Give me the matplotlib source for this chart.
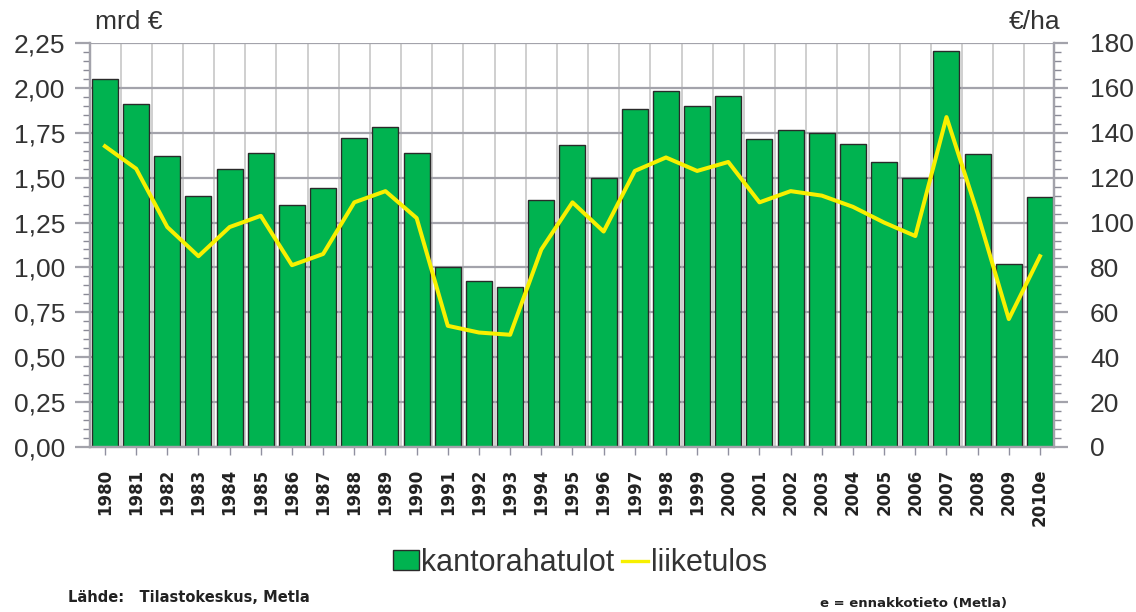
import matplotlib.pyplot as plt
from matplotlib.ticker import MultipleLocator
from matplotlib.patches import Patch
from matplotlib.lines import Line2D

years = [str(y) for y in range(1980, 2010)] + ["2010e"]
kantorahatulot = [2.05, 1.91, 1.62, 1.40, 1.55, 1.64, 1.35, 1.44, 1.72, 1.78,
                  1.64, 1.00, 0.925, 0.89, 1.375, 1.68, 1.50, 1.88, 1.98, 1.90,
                  1.955, 1.715, 1.765, 1.75, 1.69, 1.585, 1.50, 2.205, 1.63, 1.02,
                  1.39]
liiketulos = [134, 124, 98, 85, 98, 103, 81, 86, 109, 114,
              102, 54, 51, 50, 88, 109, 96, 123, 129, 123,
              127, 109, 114, 112, 107, 100, 94, 147, 104, 57,
              85]

green = '#00b350'
yellow = '#f7f000'
grid_c = '#a3a3ab'
txt = '#333333'
PX = 0.72  # points per pixel at dpi 100

fig = plt.figure(figsize=(11.36, 6.12), dpi=100)
ax = fig.add_axes([90/1136, 1-447/612, (1054-90)/1136, (447-43)/612])
ax2 = ax.twinx()

x = list(range(len(years)))

# light separators between the bars
for i in range(len(years) - 1):
    ax.axvline(i + 0.5, color='#cccccc', lw=1.3, zorder=0)

ax.bar(x, kantorahatulot, width=0.835, color=green, edgecolor='#2a2a2a', linewidth=1.0, zorder=2)
ax.set_ylim(0, 2.25)
ax.set_xlim(-0.48, 30.45)
ax.yaxis.set_major_locator(MultipleLocator(0.25))
ax.yaxis.set_minor_locator(MultipleLocator(0.05))
ax.grid(axis='y', which='major', color=grid_c, lw=1.6, zorder=1)
ax.set_axisbelow(True)
ax.set_yticklabels([f"{v:.2f}".replace('.', ',') for v in ax.get_yticks()])

ax2.plot(x, liiketulos, color=yellow, lw=2.9, zorder=5)
ax2.set_ylim(0, 180)
ax2.yaxis.set_major_locator(MultipleLocator(20))
ax2.yaxis.set_minor_locator(MultipleLocator(4))

ax.set_xticks(x)
ax.set_xticklabels(years, rotation=90, fontsize=12, fontweight='bold',
                   family='DejaVu Sans', color='#222222')
ax.tick_params(axis='x', length=8*PX, width=1, color='#9090a0', pad=14*PX)

for a in (ax, ax2):
    for s in a.spines.values():
        s.set_color(grid_c)
        s.set_linewidth(1.6)
    a.spines['top'].set_visible(False)

ax.tick_params(axis='y', which='major', length=15*PX, width=1.6, color=grid_c,
               labelsize=19, labelcolor=txt, pad=10*PX)
ax.tick_params(axis='y', which='minor', length=7*PX, width=1, color='#8a8a96')
ax2.tick_params(axis='y', which='major', length=14*PX, width=1.6, color=grid_c,
                labelsize=19, labelcolor=txt, pad=22*PX)
ax2.tick_params(axis='y', which='minor', length=7*PX, width=1, color='#8a8a96')
for lab in ax.get_yticklabels() + ax2.get_yticklabels():
    lab.set_family('Liberation Sans')

fig.text(95/1136, 1-22/612, 'mrd €', fontsize=19, color=txt, family='Liberation Sans',
         va='center', ha='left')
fig.text(1060/1136, 1-22/612, '€/ha', fontsize=19, color=txt, family='Liberation Sans',
         va='center', ha='right')

handles = [Patch(facecolor=green, edgecolor='#2a2a2a', linewidth=1.0),
           Line2D([0], [0], color=yellow, lw=2.4)]
fig.legend(handles, ['kantorahatulot', 'liiketulos'], loc='center',
           bbox_to_anchor=(580/1136, 1-563/612), ncol=2, frameon=False,
           prop={'family': 'Liberation Sans', 'size': 22}, labelcolor=txt,
           handlelength=0.85, handleheight=0.62, handletextpad=0.08, columnspacing=0.25)

fig.text(68/1136, 1-597/612, 'Lähde:   Tilastokeskus, Metla', fontsize=10.5, fontweight='bold',
         color='#222222', va='center', ha='left')
fig.text(820/1136, 1-603/612, 'e = ennakkotieto (Metla)', fontsize=9.5, fontweight='bold',
         color='#222222', va='center', ha='left')

fig.savefig('out.png', dpi=100)
